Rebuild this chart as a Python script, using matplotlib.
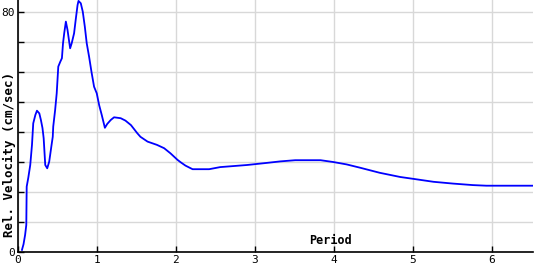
import numpy as np
import matplotlib
matplotlib.use("Agg")
from matplotlib import pyplot as plt

# period (s) and relative velocity (cm/sec)
period = [0.05, 0.07, 0.09, 0.105, 0.11, 0.13, 0.155, 0.177, 0.193, 0.22, 0.24,
          0.27, 0.29, 0.31, 0.325, 0.345, 0.37, 0.395, 0.41, 0.425, 0.44, 0.446,
          0.47, 0.49, 0.51, 0.535, 0.556, 0.57, 0.585, 0.606, 0.627, 0.648, 0.66,
          0.68, 0.71, 0.73, 0.754, 0.766, 0.795, 0.82, 0.846, 0.87, 0.9, 0.93,
          0.963, 0.997, 1.027, 1.06, 1.1, 1.13, 1.174, 1.216, 1.3, 1.36, 1.43,
          1.51, 1.55, 1.64, 1.76, 1.85, 1.93, 2.02, 2.06, 2.12, 2.21, 2.42, 2.56,
          2.9, 3.15, 3.32, 3.51, 3.83, 3.99, 4.16, 4.33, 4.58, 4.84, 5.0, 5.26,
          5.51, 5.76, 5.93, 6.52]
velocity = [0.7, 2.6, 5.7, 9.0, 21.8, 24.7, 29.0, 35.7, 42.9, 45.7, 47.1,
            46.2, 44.0, 41.3, 37.9, 29.0, 27.9, 30.1, 32.9, 35.7, 38.4, 41.8,
            47.3, 52.9, 61.8, 63.4, 64.6, 69.6, 72.9, 76.8, 74.0, 70.1, 67.9,
            69.6, 72.9, 77.3, 82.3, 83.7, 82.9, 80.1, 75.1, 69.6, 65.1, 60.1,
            55.1, 52.9, 49.0, 45.7, 41.4, 42.7, 44.0, 44.9, 44.6, 43.8, 42.3,
            39.6, 38.4, 36.8, 35.7, 34.6, 32.9, 30.7, 29.9, 28.8, 27.6, 27.6, 28.3,
            29.0, 29.7, 30.2, 30.6, 30.6, 30.0, 29.2, 28.1, 26.4, 25.0, 24.4, 23.4,
            22.8, 22.3, 22.1, 22.1]

xticks = [0, 1, 2, 3, 4, 5, 6]
yticks = [0, 10, 20, 30, 40, 50, 60, 70, 80]
ylabels = ['0', '', '', '', '', '', '', '', '80']

mono = 'DejaVu Sans Mono'

fig = plt.figure(figsize=(5.4, 2.7), dpi=100)
ax = fig.add_axes([18 / 540, 1 - 252 / 270, 515 / 540, 252 / 270])

ax.plot(period, velocity, color='#0000ff', linewidth=1.3, zorder=3)

ax.set_xlim(0, 6.52)
ax.set_ylim(0, 84)
ax.set_xticks(xticks)
ax.set_yticks(yticks)
ax.set_yticklabels(ylabels)
ax.grid(True, color='#d8d8d8', linewidth=1)
ax.set_axisbelow(True)

for s in ['top', 'right']:
    ax.spines[s].set_visible(False)
for s in ['left', 'bottom']:
    ax.spines[s].set_linewidth(1.2)

ax.tick_params(direction='in', length=4, width=1, pad=2, labelsize=8)
for lab in ax.get_xticklabels() + ax.get_yticklabels():
    lab.set_family(mono)

ax.set_ylabel('Rel. Velocity (cm/sec)', family=mono, fontweight='bold',
              fontsize=9, va='center')
ax.yaxis.set_label_coords(-0.0175, 0.385)
ax.text(3.95, 3.7, 'Period', family=mono, fontweight='bold', fontsize=8.5,
        ha='center', va='center')

plt.savefig('out.png', dpi=100)
